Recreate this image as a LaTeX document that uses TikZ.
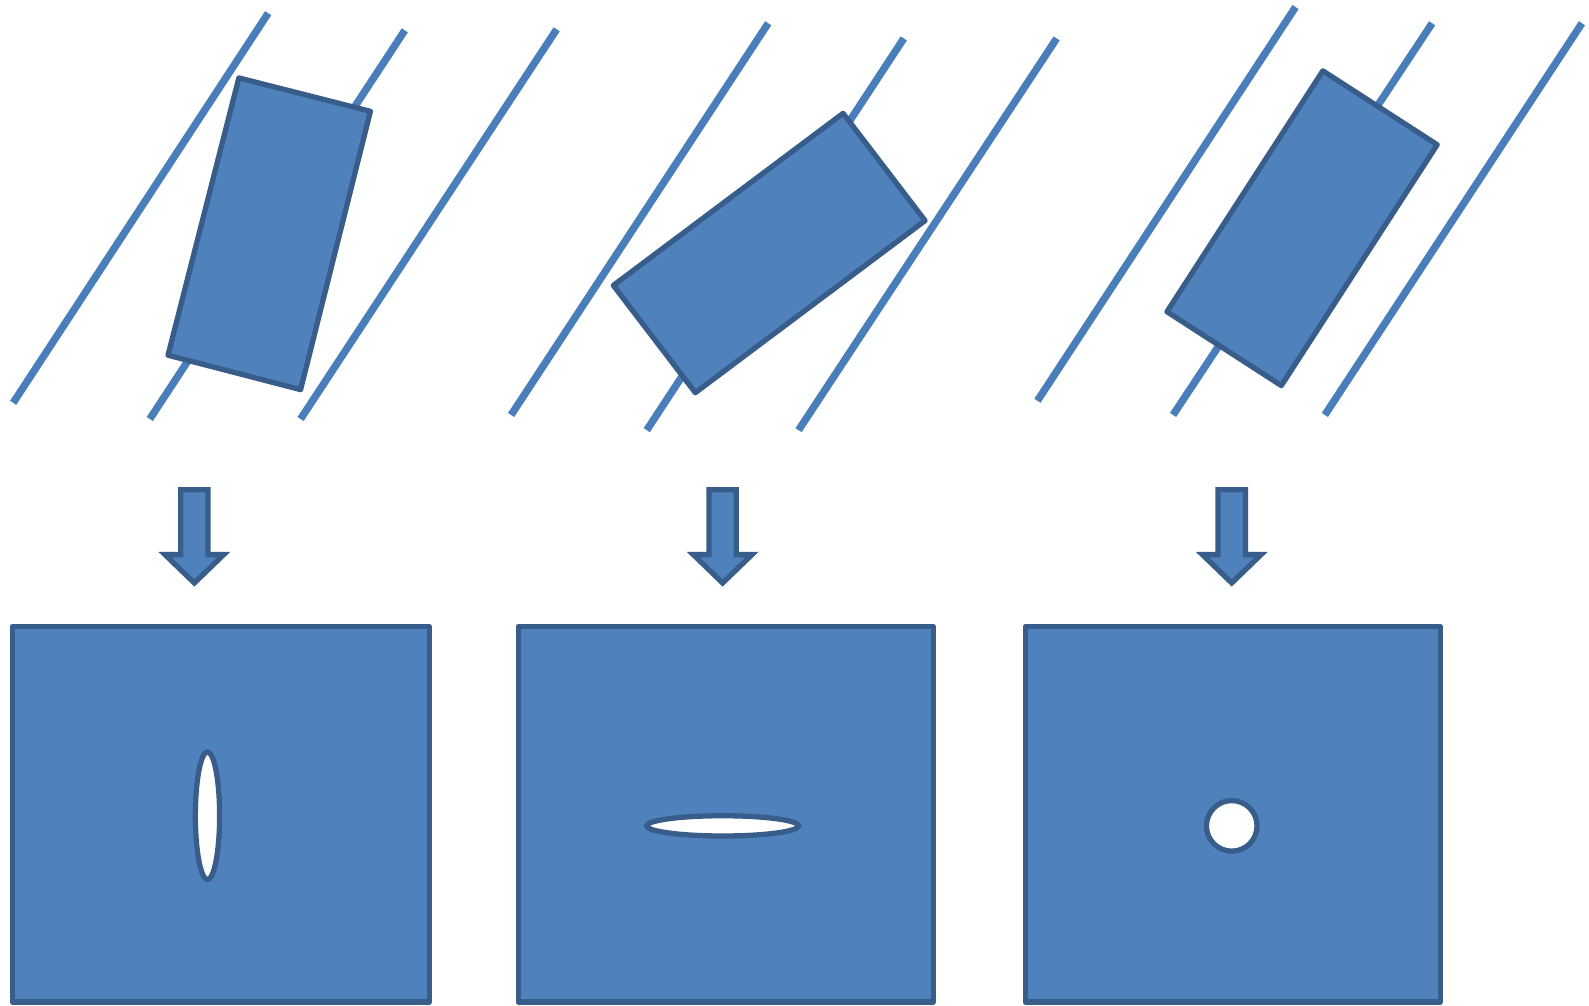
\documentclass[tikz,border=0pt]{standalone}
\usepackage{tikz}
\usetikzlibrary{positioning}
\definecolor{fillblue}{HTML}{4F81BD}
\definecolor{edgeblue}{HTML}{385D8A}
\definecolor{lineblue}{HTML}{4A7EBB}
\tikzstyle{rail}=[draw=lineblue, line width=2.1pt]
\tikzstyle{slab}=[draw=edgeblue, fill=fillblue, line width=1.5pt, line join=round]
\tikzstyle{hole}=[draw=edgeblue, fill=white, line width=1.5pt]

\begin{document}
\begin{tikzpicture}[x=0.1012mm, y=-0.1012mm]
	\useasboundingbox (0,0) rectangle (1570,993);

	% slanted rails, three per group
	\foreach \ax/\ay/\bx/\by in {13/398/265/13, 148/414/400/30, 297/414/550/29,
		505/410/759/23, 639/425/893/38, 789/425/1044/38,
		1025/396/1280/7, 1159/410/1415/23, 1309/410/1563/23}
		\draw[rail] (\ax,\ay) -- (\bx,\by);

	% tilted blocks on the rails
	\draw[slab] (236,77) -- (366,110) -- (297,385) -- (166,351) -- cycle;
	\draw[slab] (833,112) -- (914,218) -- (687,388) -- (606,282) -- cycle;
	\draw[slab] (1307,70) -- (1420,143) -- (1266,381) -- (1153,308) -- cycle;

	% down arrows
	\foreach \cx in {192,714,1217}
		\draw[slab, line join=miter] (\cx-13.5,484) -- (\cx+13.5,484) -- (\cx+13.5,548)
		-- (\cx+29,548) -- (\cx,576) -- (\cx-29,548) -- (\cx-13.5,548) -- cycle;

	% plates
	\foreach \lx/\rx in {12/424, 512/922, 1013/1423}
		\draw[slab] (\lx,619) rectangle (\rx,990);

	% holes in the plates
	\draw[hole] (205,806) ellipse [x radius=12, y radius=63];
	\draw[hole] (714,816) ellipse [x radius=75, y radius=10];
	\draw[hole] (1217,816) circle [radius=25];

\end{tikzpicture}
\end{document}
